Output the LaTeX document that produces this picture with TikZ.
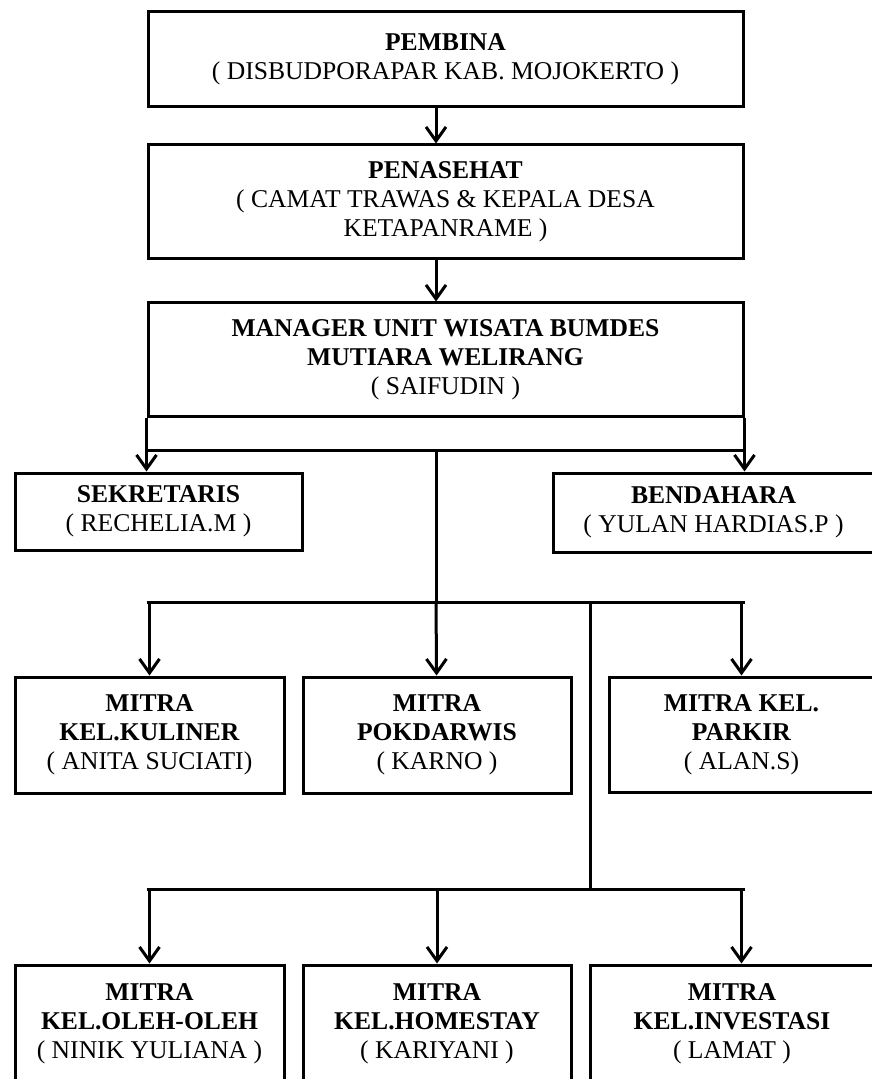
\documentclass[tikz,border=0pt]{standalone}
\usepackage{fontspec}
\setmainfont{Liberation Serif}
\usetikzlibrary{arrows.meta}

\begin{document}
\begin{tikzpicture}[x=0.5pt,y=-0.5pt]
        \tikzstyle{every node}=[font=\fontsize{12.8}{14.6}\selectfont]
        \tikzstyle{box}=[draw,line width=1.5pt,rectangle,align=center,inner sep=0pt]
        \tikzstyle{line}=[line width=1.5pt]
        \tikzstyle{flow}=[line width=1.5pt,-{Straight Barb[length=7pt,width=10pt]}]

        \useasboundingbox (0,0) rectangle (871,1079);

        \node[box,minimum width=297.5pt,minimum height=47.5pt] (pembina) at (445.5,59.5)
            {\textbf{PEMBINA}\\( DISBUDPORAPAR KAB. MOJOKERTO )};
        \node[box,minimum width=297.5pt,minimum height=57pt] (penasehat) at (445.5,202)
            {\textbf{PENASEHAT}\\( CAMAT TRAWAS \& KEPALA DESA\\KETAPANRAME )};
        \node[box,minimum width=297.5pt,minimum height=56.5pt] (manager) at (445.5,359.5)
            {\textbf{MANAGER UNIT WISATA BUMDES}\\\textbf{MUTIARA WELIRANG}\\( SAIFUDIN )};

        \node[box,minimum width=143.5pt,minimum height=38.5pt] (sekretaris) at (158.5,511.5)
            {\textbf{SEKRETARIS}\\( RECHELIA.M )};
        \node[box,minimum width=160.5pt,minimum height=39.5pt] (bendahara) at (713.5,512.5)
            {\textbf{BENDAHARA}\\( YULAN HARDIAS.P )};

        \node[box,minimum width=134.5pt,minimum height=58pt] (kuliner) at (149.5,735)
            {\textbf{MITRA}\\\textbf{KEL.KULINER}\\( ANITA SUCIATI)};
        \node[box,minimum width=134pt,minimum height=58pt] (pokdarwis) at (437,735)
            {\textbf{MITRA}\\\textbf{POKDARWIS}\\( KARNO )};
        \node[box,minimum width=132.5pt,minimum height=57.5pt] (parkir) at (741.5,734.5)
            {\textbf{MITRA KEL.}\\\textbf{PARKIR}\\( ALAN.S)};

        \node[box,minimum width=134.5pt,minimum height=59pt] (oleh) at (149.5,1024)
            {\textbf{MITRA}\\\textbf{KEL.OLEH-OLEH}\\( NINIK YULIANA )};
        \node[box,minimum width=134pt,minimum height=59pt] (homestay) at (437,1024)
            {\textbf{MITRA}\\\textbf{KEL.HOMESTAY}\\( KARIYANI )};
        \node[box,minimum width=142pt,minimum height=59pt] (investasi) at (732,1024)
            {\textbf{MITRA}\\\textbf{KEL.INVESTASI}\\( LAMAT )};

        % junction points
        \coordinate (spine) at (436,0);
        \coordinate (bus1) at (436,450);
        \coordinate (bus2) at (436,602);
        \coordinate (bus3) at (590,889);

        \draw[flow] (pembina.south -| spine) -- (penasehat.north -| spine);
        \draw[flow] (penasehat.south -| spine) -- (manager.north -| spine);

        \draw[flow] (manager.south west) -- (sekretaris.north -| manager.south west);
        \draw[flow] (manager.south east) -- (bendahara.north -| manager.south east);
        \draw[line] (manager.south west |- bus1) -- (manager.south east |- bus1);
        \draw[line] (bus1) -- (bus2);

        \draw[line] (manager.south west |- bus2) -- (manager.south east |- bus2);
        \draw[flow] (bus2 -| kuliner) -- (kuliner);
        \draw[flow] (bus2) -- (pokdarwis);
        \draw[flow] (bus2 -| parkir) -- (parkir);

        \draw[line] (bus2 -| bus3) -- (bus3);
        \draw[line] (manager.south west |- bus3) -- (manager.south east |- bus3);
        \draw[flow] (bus3 -| oleh) -- (oleh);
        \draw[flow] (bus3 -| homestay) -- (homestay);
        \draw[flow] (bus3 -| parkir) -- (investasi.north -| parkir);

    \end{tikzpicture}
\end{document}
